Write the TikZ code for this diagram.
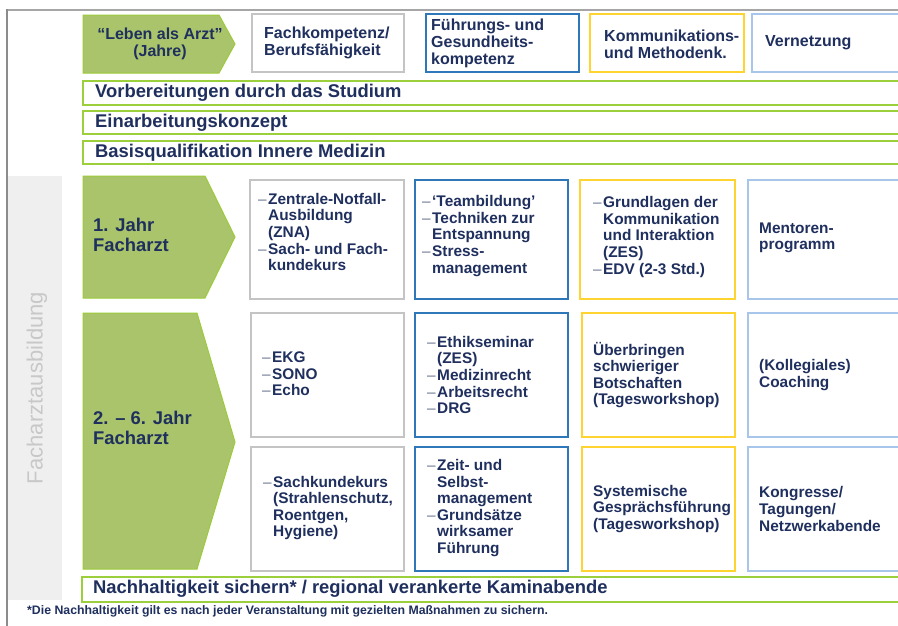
\documentclass[tikz,border=0pt]{standalone}
\usepackage{fontspec}
\setmainfont{Liberation Sans}
\definecolor{navy}{HTML}{1F2F5E}
\definecolor{leaf}{HTML}{A9C46B}
\definecolor{leafline}{HTML}{9CCB3A}
\definecolor{barline}{HTML}{9BD03C}
\definecolor{boxgray}{HTML}{C4C4C4}
\definecolor{boxblue}{HTML}{2E78BA}
\definecolor{boxyellow}{HTML}{FFD330}
\definecolor{boxsky}{HTML}{A8C6EA}
\definecolor{bandgray}{HTML}{EFEFEF}
\definecolor{bandtext}{HTML}{C8C8C8}
\definecolor{dashgray}{HTML}{6A7590}
\newcommand{\bul}{\makebox[10pt][l]{\mdseries\color{dashgray}–}}
\newcommand{\ind}{\hspace*{10pt}}
\begin{document}
\begin{tikzpicture}[x=1pt,y=-1pt,
    leafarrow/.style={fill=leaf,draw=leafline,line width=1pt},
    barbox/.style={draw=barline,line width=2.5pt},
    graybox/.style={draw=boxgray,line width=2pt},
    bluebox/.style={draw=boxblue,line width=2pt},
    yellowbox/.style={draw=boxyellow,line width=2pt},
    skybox/.style={draw=boxsky,line width=2pt},
    head/.style={anchor=west,align=left,inner sep=0pt,text=navy,font=\fontsize{16}{17}\selectfont\bfseries},
    body/.style={anchor=west,align=left,inner sep=0pt,text=navy,font=\fontsize{15.4}{16.6}\selectfont\bfseries},
    bartext/.style={anchor=west,align=left,inner sep=0pt,text=navy,font=\fontsize{18.4}{19.5}\selectfont\bfseries}]
  \clip (0,0) rectangle (898,625);
  \fill[white] (0,0) rectangle (898,625);
  % frame and side band
  \draw[color=black!35,line width=2pt] (7,10) -- (905,10);
  \draw[color=black!45,line width=1.5pt] (7,9) -- (7,630);
  \fill[bandgray] (8,176) rectangle (62,600);
  \node[rotate=90,text=bandtext,inner sep=0pt,font=\fontsize{22}{22}\selectfont] (bandlabel) at (37,388) {Facharztausbildung};
  % header row
  \draw[leafarrow] (83,15) -- (219,15) -- (235,44) -- (219,73) -- (83,73) -- cycle;
  \node[head,align=center,anchor=center] (lebenarzt) at (160,44) {“Leben als Arzt”\\(Jahre)};
  \draw[graybox] (252,14) rectangle (404,72);
  \node[head] (fachkomp) at (264,43) {Fachkompetenz/\\Berufsfähigkeit};
  \draw[bluebox] (426,14) rectangle (579,72);
  \node[head] (fuehrung) at (431,43) {Führungs- und\\Gesundheits-\\kompetenz};
  \draw[yellowbox] (590,14) rectangle (744,72);
  \node[head] (kommu) at (604,44) {Kommunikations-\\und Methodenk.};
  \draw[skybox] (752,14) rectangle (905,72);
  \node[head] (vernetz) at (765,43) {Vernetzung};
  % green bars
  \draw[barbox] (83,81) rectangle (905,105);
  \node[bartext] (studium) at (95,93) {Vorbereitungen durch das Studium};
  \draw[barbox] (83,111) rectangle (905,134);
  \node[bartext] (einarb) at (95,123) {Einarbeitungskonzept};
  \draw[barbox] (83,141) rectangle (905,164);
  \node[bartext] (basisq) at (95,153) {Basisqualifikation Innere Medizin};
  % 1. Jahr
  \draw[leafarrow] (83,176) -- (205,176) -- (235,237) -- (205,298) -- (83,298) -- cycle;
  \node[bartext] (jahreins) at (93,235) {1. Jahr\\Facharzt};
  \draw[graybox] (250,180) rectangle (404,299);
  \node[body] (fachA) at (258,232) {\bul Zentrale-Notfall-\\\ind Ausbildung\\\ind (ZNA)\\\bul Sach- und Fach-\\\ind kundekurs};
  \draw[bluebox] (415,180) rectangle (568,299);
  \node[body] (fuehrA) at (422,236) {\bul ‘Teambildung’\\\bul Techniken zur\\\ind Entspannung\\\bul Stress-\\\ind management};
  \draw[yellowbox] (580,180) rectangle (735,299);
  \node[body] (kommA) at (593,237) {\bul Grundlagen der\\\ind Kommunikation\\\ind und Interaktion\\\ind (ZES)\\\bul EDV (2-3 Std.)};
  \draw[skybox] (748,180) rectangle (905,299);
  \node[body] (vernA) at (759,238) {Mentoren-\\programm};
  % 2. - 6. Jahr
  \draw[leafarrow] (83,313) -- (197,313) -- (235,442) -- (197,569) -- (83,569) -- cycle;
  \node[bartext] (jahrzwei) at (93,428) {2. – 6. Jahr\\Facharzt};
  \draw[graybox] (251,313) rectangle (404,437);
  \node[body] (fachB) at (262,374) {\bul EKG\\\bul SONO\\\bul Echo};
  \draw[bluebox] (415,313) rectangle (568,437);
  \node[body] (fuehrB) at (427,375) {\bul Ethikseminar\\\ind (ZES)\\\bul Medizinrecht\\\bul Arbeitsrecht\\\bul DRG};
  \draw[yellowbox] (582,313) rectangle (735,437);
  \node[body] (kommB) at (593,375) {Überbringen\\schwieriger\\Botschaften\\(Tagesworkshop)};
  \draw[skybox] (748,313) rectangle (905,437);
  \node[body] (vernB) at (759,375) {(Kollegiales)\\Coaching};
  \draw[graybox] (251,447) rectangle (404,571);
  \node[body] (fachC) at (263,508) {\bul Sachkundekurs\\\ind (Strahlenschutz,\\\ind Roentgen,\\\ind Hygiene)};
  \draw[bluebox] (415,447) rectangle (568,571);
  \node[body] (fuehrC) at (427,508) {\bul Zeit- und\\\ind Selbst-\\\ind management\\\bul Grundsätze\\\ind wirksamer\\\ind Führung};
  \draw[yellowbox] (582,447) rectangle (735,571);
  \node[body] (kommC) at (593,509) {Systemische\\Gesprächsführung\\(Tagesworkshop)};
  \draw[skybox] (748,447) rectangle (905,571);
  \node[body] (vernC) at (759,509) {Kongresse/\\Tagungen/\\Netzwerkabende};
  % bottom bar and footnote
  \draw[barbox] (82,577) rectangle (905,602);
  \node[bartext] (nachhalt) at (93,589) {Nachhaltigkeit sichern* / regional verankerte Kaminabende};
  \node[anchor=west,inner sep=0pt,text=navy,font=\fontsize{12.3}{13}\selectfont\bfseries] (fussnote) at (27,611) {*Die Nachhaltigkeit gilt es nach jeder Veranstaltung mit gezielten Maßnahmen zu sichern.};
\end{tikzpicture}
\end{document}
